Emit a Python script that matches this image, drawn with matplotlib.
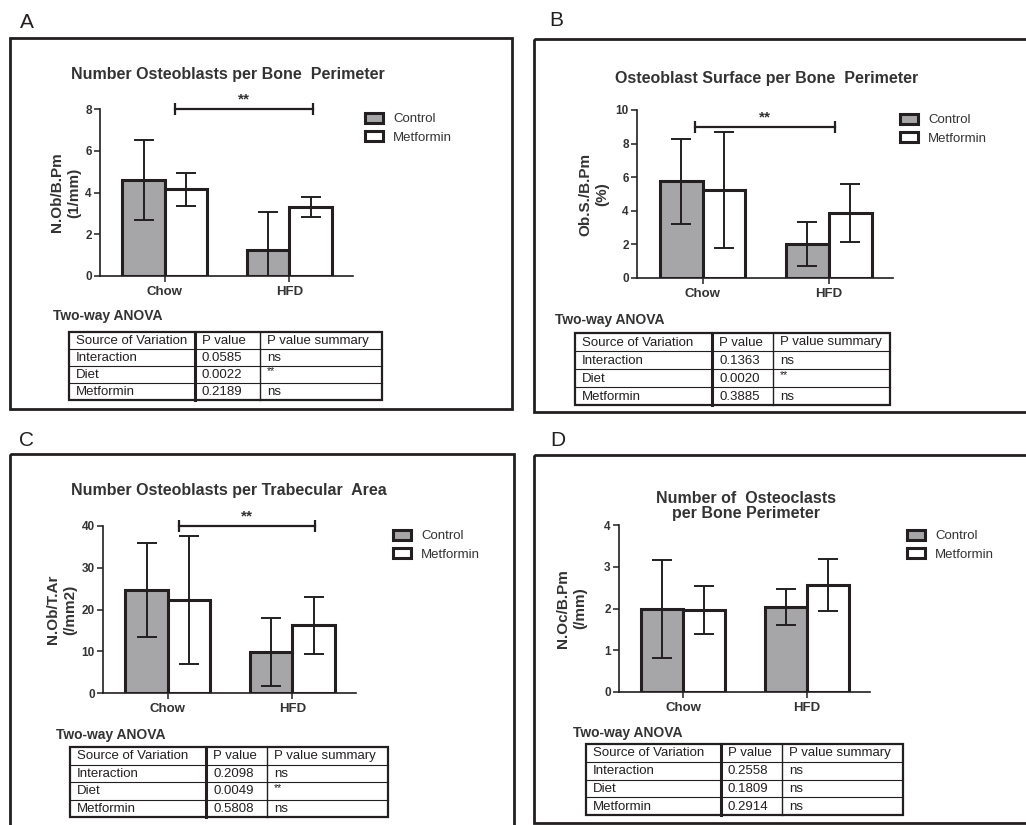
import numpy as np
import matplotlib
matplotlib.use("Agg")
import matplotlib.pyplot as plt
from matplotlib.patches import Rectangle

plt.rcParams["font.family"] = ["Liberation Sans", "DejaVu Sans"]

W, H = 1026, 825
INK = "#231f20"
TXT = "#333333"
GREY = "#a6a6a8"
BW = 0.34

GROUPS = ["Chow", "HFD"]
SERIES = ["Control", "Metformin"]
SOURCES = ["Interaction", "Diet", "Metformin"]
HEADER = ["Source of Variation", "P value", "P value summary"]

# A: osteoblast number / bone perimeter
A_TITLE = "Number Osteoblasts per Bone  Perimeter"
A_YLABEL = "N.Ob/B.Pm\n(1/mm)"
A_CTRL = [4.6, 1.25]
A_CTRL_SD = [1.9, 1.83]
A_MET = [4.15, 3.3]
A_MET_SD = [0.8, 0.48]
A_YTICKS = [0, 2, 4, 6, 8]
A_SIG = (0.08, 1.19, 8.0)
A_PVAL = ["0.0585", "0.0022", "0.2189"]
A_PSUM = ["ns", "**", "ns"]

# B: osteoblast surface / bone perimeter
B_TITLE = "Osteoblast Surface per Bone  Perimeter"
B_YLABEL = "Ob.S./B.Pm\n(%)"
B_CTRL = [5.75, 2.03]
B_CTRL_SD = [2.55, 1.31]
B_MET = [5.25, 3.85]
B_MET_SD = [3.45, 1.72]
B_YTICKS = [0, 2, 4, 6, 8, 10]
B_SIG = (-0.06, 1.05, 9.0)
B_PVAL = ["0.1363", "0.0020", "0.3885"]
B_PSUM = ["ns", "**", "ns"]

# C: osteoblast number / trabecular area
C_TITLE = "Number Osteoblasts per Trabecular  Area"
C_YLABEL = "N.Ob/T.Ar\n(/mm2)"
C_CTRL = [24.7, 9.8]
C_CTRL_SD = [11.2, 8.1]
C_MET = [22.3, 16.2]
C_MET_SD = [15.4, 6.8]
C_YTICKS = [0, 10, 20, 30, 40]
C_SIG = (0.09, 1.18, 40.0)
C_PVAL = ["0.2098", "0.0049", "0.5808"]
C_PSUM = ["ns", "**", "ns"]

# D: osteoclast number / bone perimeter
D_TITLE = "Number of  Osteoclasts\nper Bone Perimeter"
D_YLABEL = "N.Oc/B.Pm\n(/mm)"
D_CTRL = [1.99, 2.04]
D_CTRL_SD = [1.18, 0.43]
D_MET = [1.96, 2.56]
D_MET_SD = [0.57, 0.63]
D_YTICKS = [0, 1, 2, 3, 4]
D_SIG = None
D_PVAL = ["0.2558", "0.1809", "0.2914"]
D_PSUM = ["ns", "ns", "ns"]

PANELS = [
    dict(letter="A", title=A_TITLE, ylabel=A_YLABEL, ctrl=A_CTRL, ctrl_sd=A_CTRL_SD,
         met=A_MET, met_sd=A_MET_SD, yticks=A_YTICKS, sig=A_SIG, pval=A_PVAL, psum=A_PSUM,
         ax=(100, 109, 353, 276), title_xy=(228, 75), ylab_x=66, leg=(365, 113),
         anova=(53, 316), table=(69, 332, 382, 400), cols=(195, 260),
         letter_xy=(27, 22), border=(10, 38, 512, 409)),
    dict(letter="B", title=B_TITLE, ylabel=B_YLABEL, ctrl=B_CTRL, ctrl_sd=B_CTRL_SD,
         met=B_MET, met_sd=B_MET_SD, yticks=B_YTICKS, sig=B_SIG, pval=B_PVAL, psum=B_PSUM,
         ax=(637, 110, 893, 278), title_xy=(767, 79), ylab_x=594, leg=(900, 114),
         anova=(555, 320), table=(575, 333, 890, 405), cols=(712, 773),
         letter_xy=(556, 21), border=(534, 39, 1040, 412)),
    dict(letter="C", title=C_TITLE, ylabel=C_YLABEL, ctrl=C_CTRL, ctrl_sd=C_CTRL_SD,
         met=C_MET, met_sd=C_MET_SD, yticks=C_YTICKS, sig=C_SIG, pval=C_PVAL, psum=C_PSUM,
         ax=(103, 526, 356, 693), title_xy=(229, 491), ylab_x=62, leg=(393, 530),
         anova=(56, 735), table=(70, 747, 388, 817), cols=(206, 267),
         letter_xy=(27, 440), border=(10, 454, 514, 840)),
    dict(letter="D", title=D_TITLE, ylabel=D_YLABEL, ctrl=D_CTRL, ctrl_sd=D_CTRL_SD,
         met=D_MET, met_sd=D_MET_SD, yticks=D_YTICKS, sig=D_SIG, pval=D_PVAL, psum=D_PSUM,
         ax=(619, 525, 870, 692), title_xy=(746, 506), ylab_x=572, leg=(907, 530),
         anova=(573, 733), table=(586, 744, 903, 815), cols=(721, 782),
         letter_xy=(558, 440), border=(534, 455, 1040, 823)),
]


def px_axes(fig, box):
    l, t, r, b = box
    return fig.add_axes([l / W, 1 - b / H, (r - l) / W, (b - t) / H])


def draw_chart(fig, ov, p):
    ax = px_axes(fig, p["ax"])
    x = np.arange(len(GROUPS))
    b1 = ax.bar(x - BW / 2, p["ctrl"], BW, color=GREY, edgecolor=INK,
                linewidth=2.2, label=SERIES[0], zorder=2)
    b2 = ax.bar(x + BW / 2, p["met"], BW, color="white", edgecolor=INK,
                linewidth=2.2, label=SERIES[1], zorder=2)
    for xs, ys, sd in ((x - BW / 2, p["ctrl"], p["ctrl_sd"]),
                       (x + BW / 2, p["met"], p["met_sd"])):
        ax.errorbar(xs, ys, yerr=sd, fmt="none", ecolor=INK, elinewidth=1.4,
                    capsize=7, capthick=1.4, zorder=3)

    ax.set_xlim(-0.52, 1.51)
    ax.set_ylim(0, p["yticks"][-1])
    ax.set_yticks(p["yticks"])
    ax.set_xticks(x)
    ax.set_xticklabels(GROUPS, fontsize=9.5, fontweight="bold", color=TXT)
    ax.tick_params(axis="y", labelsize=8.5, labelcolor=TXT, width=1.1,
                   length=4, color=INK, pad=2)
    ax.tick_params(axis="x", width=1.1, length=4, color=INK, pad=3)
    for lab in ax.get_yticklabels():
        lab.set_fontweight("bold")
    for s in ("top", "right"):
        ax.spines[s].set_visible(False)
    for s in ("left", "bottom"):
        ax.spines[s].set_linewidth(1.2)
        ax.spines[s].set_color(INK)
    ax.patch.set_alpha(0)

    l, t, r, b = p["ax"]
    ax.set_ylabel(p["ylabel"], fontsize=11, fontweight="bold", color=TXT,
                  va="center", linespacing=1.3)
    ax.yaxis.set_label_coords((p["ylab_x"] - l) / (r - l), 0.5)

    if p["sig"] is not None:
        x0, x1, y = p["sig"]
        ax.plot([x0, x1], [y, y], color=INK, lw=1.6, clip_on=False)
        ax.errorbar([x0, x1], [y, y], yerr=0.035 * p["yticks"][-1], fmt="none",
                    ecolor=INK, elinewidth=1.6, capsize=0, clip_on=False)
        ax.text((x0 + x1) / 2, y + 0.015 * p["yticks"][-1], "**", ha="center",
                va="bottom", fontsize=11, fontweight="bold", color=TXT)

    lx, ly = p["leg"]
    ax.legend(handles=[b1, b2], loc="upper left",
              bbox_to_anchor=(lx / W, 1 - ly / H), bbox_transform=fig.transFigure,
              frameon=False, fontsize=9.5, handlelength=1.4, handleheight=0.75,
              handletextpad=0.75, labelspacing=0.45, borderpad=0,
              borderaxespad=0, labelcolor=TXT)

    tx, ty = p["title_xy"]
    ov.text(tx, ty, p["title"], ha="center", va="center", fontsize=11.5,
            fontweight="bold", color=TXT, linespacing=1.05)


def draw_table(ov, p):
    l, t, r, b = p["table"]
    c1, c2 = p["cols"]
    rows = [HEADER] + [list(row) for row in zip(SOURCES, p["pval"], p["psum"])]
    rh = (b - t) / len(rows)
    for i, row in enumerate(rows):
        yc = t + rh * (i + 0.5)
        for x0, txt in zip((l, c1, c2), row):
            if txt == "**":
                ov.text(x0 + 7, yc - 3, txt, ha="left", va="center",
                        fontsize=7.5, color=INK)
            else:
                ov.text(x0 + 7, yc + 0.5, txt, ha="left", va="center",
                        fontsize=9.5, color=INK)
    for i in range(1, len(rows)):
        ov.plot([l, r], [t + rh * i] * 2, color=INK, lw=0.8)
    ov.plot([c1, c1], [t, b], color=INK, lw=2.2)
    ov.plot([c2, c2], [t, b], color=INK, lw=1.0)
    ov.add_patch(Rectangle((l, t), r - l, b - t, fill=False, ec=INK, lw=1.6))
    ax_, ay_ = p["anova"]
    ov.text(ax_, ay_, "Two-way ANOVA", ha="left", va="center", fontsize=10,
            fontweight="bold", color=TXT)


fig = plt.figure(figsize=(W / 100, H / 100), dpi=100)
ov = fig.add_axes([0, 0, 1, 1])
ov.set_xlim(0, W)
ov.set_ylim(H, 0)
ov.axis("off")

for p in PANELS:
    l, t, r, b = p["border"]
    ov.add_patch(Rectangle((l, t), r - l, b - t, fill=False, ec=INK, lw=2.0,
                           clip_on=False))
    lx, ly = p["letter_xy"]
    ov.text(lx, ly, p["letter"], ha="center", va="center", fontsize=15,
            color=INK)
    draw_chart(fig, ov, p)
    draw_table(ov, p)

fig.savefig("out.png", dpi=100)
